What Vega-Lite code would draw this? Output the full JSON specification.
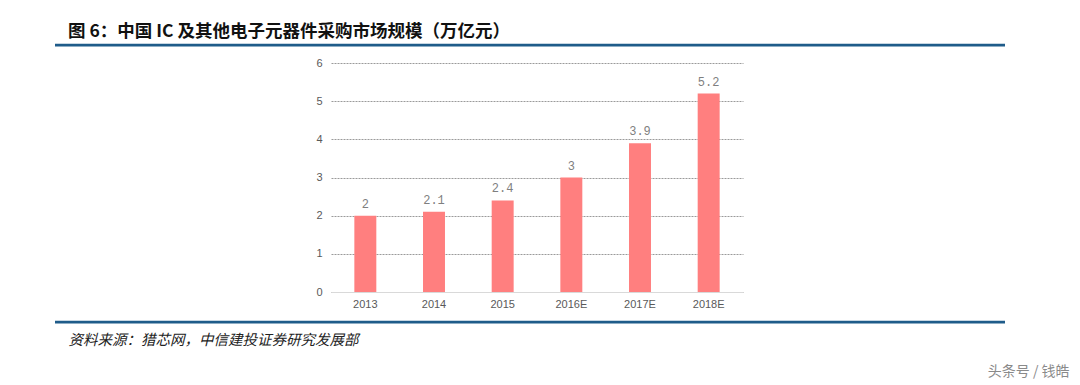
{
  "$schema": "https://vega.github.io/schema/vega-lite/v6.json",
  "width": 412,
  "height": 229,
  "autosize": {"type": "none"},
  "padding": {"left": 331, "top": 63, "right": 337, "bottom": 93},
  "background": "white",
  "config": {"view": {"stroke": null}, "font": "Liberation Sans"},
  "title": {
    "text": "图 6：中国 IC 及其他电子元器件采购市场规模（万亿元）",
    "anchor": "start",
    "frame": "group",
    "dx": -263,
    "offset": 3,
    "font": "Noto Sans CJK SC",
    "fontSize": 17.5,
    "fontWeight": "bold",
    "color": "#111111"
  },
  "layer": [
    {
      "data": {"values": [
        {"year": "2013", "value": 2, "label": "2"},
        {"year": "2014", "value": 2.1, "label": "2.1"},
        {"year": "2015", "value": 2.4, "label": "2.4"},
        {"year": "2016E", "value": 3, "label": "3"},
        {"year": "2017E", "value": 3.9, "label": "3.9"},
        {"year": "2018E", "value": 5.2, "label": "5.2"}
      ]},
      "encoding": {
        "x": {
          "field": "year", "type": "nominal", "sort": null,
          "scale": {"paddingInner": 0.68, "paddingOuter": 0.34},
          "axis": {
            "title": "资料来源：猎芯网，中信建投证券研究发展部",
            "titleFont": "Noto Sans CJK SC",
            "titleFontSize": 14.5,
            "titleFontWeight": "normal",
            "titleFontStyle": "italic",
            "titleColor": "#222222",
            "titleAnchor": "start",
            "titleAlign": "left",
            "titleBaseline": "middle",
            "titleX": -263,
            "titleY": 48,
            "labelAngle": 0,
            "labelFont": "Liberation Sans",
            "labelFontSize": 11,
            "labelColor": "#595959",
            "labelPadding": 6,
            "ticks": false,
            "domainColor": "#D9D9D9",
            "domainWidth": 1,
            "grid": false
          }
        },
        "y": {
          "field": "value", "type": "quantitative",
          "scale": {"domain": [0, 6], "nice": false},
          "axis": {
            "title": null,
            "values": [0, 1, 2, 3, 4, 5, 6],
            "labelFont": "Liberation Sans",
            "labelFontSize": 11,
            "labelColor": "#595959",
            "labelPadding": 9,
            "ticks": false,
            "domain": false,
            "grid": true,
            "gridColor": "#9A9A9A",
            "gridDash": [2, 1],
            "gridWidth": 1
          }
        }
      },
      "layer": [
        {"mark": {"type": "bar", "color": "#FF7F7F"}},
        {
          "mark": {"type": "text", "baseline": "bottom", "dy": -5, "font": "Liberation Mono", "fontSize": 12, "color": "#7F7F7F"},
          "encoding": {"text": {"field": "label"}}
        }
      ]
    },
    {
      "data": {"values": [
        {"x": 0, "x2": 1, "y": 6.47},
        {"x": 0, "x2": 1, "y": -0.79}
      ]},
      "mark": {"type": "rule", "color": "#1F5C8A", "strokeWidth": 2.8},
      "encoding": {
        "x": {"field": "x", "type": "quantitative", "scale": {"domain": [0, 1], "range": [-276, 674]}, "axis": null},
        "x2": {"field": "x2"},
        "y": {"field": "y", "type": "quantitative", "scale": {"domain": [0, 6], "nice": false}, "axis": null}
      }
    },
    {
      "data": {"values": [{"x": 1.068, "y": -2.1, "text": "头条号 / 钱皓"}]},
      "mark": {"type": "text", "align": "right", "baseline": "middle", "font": "Noto Sans CJK SC", "fontSize": 14, "color": "#8A8A8A"},
      "encoding": {
        "x": {"field": "x", "type": "quantitative", "scale": {"domain": [0, 1], "range": [-276, 674]}, "axis": null},
        "y": {"field": "y", "type": "quantitative", "scale": {"domain": [0, 6], "nice": false}, "axis": null},
        "text": {"field": "text"}
      }
    }
  ],
  "resolve": {"scale": {"x": "independent", "y": "independent"}}
}
